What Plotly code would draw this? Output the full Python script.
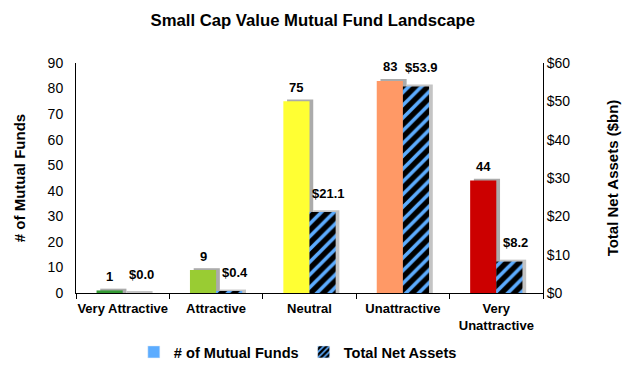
import plotly.graph_objects as go

categories = ["Very Attractive", "Attractive", "Neutral", "Unattractive", "Very<br>Unattractive"]
num_funds = [1, 9, 75, 83, 44]
net_assets = [0.0, 0.4, 21.1, 53.9, 8.2]
fund_labels = ["1", "9", "75", "83", "44"]
asset_labels = ["$0.0", "$0.4", "$21.1", "$53.9", "$8.2"]
bar_colors = ["#339933", "#99cc33", "#ffff33", "#ff9966", "#cc0000"]

FONT = "Liberation Sans, Arial, sans-serif"
W = 0.28
BLUE = "#5cacff"

fig = go.Figure()
# soft shadows
fig.add_trace(go.Bar(x=categories, y=[v + 0.7 for v in num_funds], width=W, offset=-W + 0.04,
                     marker=dict(color="#ababab", line=dict(width=0)),
                     showlegend=False, hoverinfo="skip", yaxis="y"))
fig.add_trace(go.Bar(x=categories, y=[v + 0.5 for v in net_assets], width=W, offset=0.04,
                     marker=dict(color="#c4c4c4", line=dict(width=0)),
                     showlegend=False, hoverinfo="skip", yaxis="y2"))
fig.add_trace(go.Bar(x=categories, y=num_funds, width=W, offset=-W,
                     marker=dict(color=bar_colors, line=dict(width=0)),
                     showlegend=False, yaxis="y"))
fig.add_trace(go.Bar(x=categories, y=net_assets, width=W, offset=0,
                     marker=dict(color="black", line=dict(width=0),
                                 pattern=dict(shape="/", fgcolor=BLUE, bgcolor="black", fgopacity=1,
                                              size=9, solidity=0.4)),
                     showlegend=False, yaxis="y2"))
# legend entries
fig.add_trace(go.Bar(x=[None], y=[None], name="<b># of Mutual Funds</b>",
                     marker=dict(color=BLUE)))
fig.add_trace(go.Bar(x=[None], y=[None], name="<b>Total Net Assets</b>",
                     marker=dict(color="black", pattern=dict(shape="/", fgcolor=BLUE, bgcolor="black",
                                                             fgopacity=1, size=5, solidity=0.4))))

annotations = []
for i, c in enumerate(categories):
    annotations.append(dict(x=c, y=num_funds[i], xref="x", yref="y", text="<b>%s</b>" % fund_labels[i],
                            showarrow=False, xshift=-W * 93.4 / 2, yshift=14, yanchor="middle",
                            font=dict(family=FONT, size=13, color="black")))
    annotations.append(dict(x=c, y=net_assets[i], xref="x", yref="y2", text="<b>%s</b>" % asset_labels[i],
                            showarrow=False, xshift=W * 93.4 / 2 + 6, yshift=19, yanchor="middle",
                            font=dict(family=FONT, size=13, color="black")))

fig.update_layout(
    width=622, height=359,
    margin=dict(l=68, r=87, t=55, b=74, autoexpand=False),
    paper_bgcolor="white", plot_bgcolor="white",
    barmode="overlay",
    annotations=annotations,
    font=dict(family=FONT, size=13, color="black"),
    title=dict(text="<b>Small Cap Value Mutual Fund Landscape</b>", x=0.490, xanchor="center",
               y=0.967, yanchor="middle", font=dict(family=FONT, size=16.7, color="black")),
    xaxis=dict(showline=True, linecolor="black", linewidth=1, ticks="outside", tickson="boundaries",
               ticklen=5, tickcolor="black", showgrid=False, automargin=False, tickangle=0,
               ticklabelstandoff=3,
               tickfont=dict(family=FONT, size=13, color="black", weight="bold")),
    yaxis=dict(range=[0, 90], dtick=10, showline=True, linecolor="black", linewidth=1,
               showgrid=False, zeroline=False, ticks="", tickfont=dict(size=14), automargin=False,
               ticklabelstandoff=9,
               title=dict(text="<b># of Mutual Funds</b>", font=dict(size=15), standoff=18)),
    yaxis2=dict(range=[0, 60], dtick=10, tickprefix="$", overlaying="y", side="right",
                showline=True, linecolor="black", linewidth=1, showgrid=False, zeroline=False,
                ticks="", tickfont=dict(size=14), automargin=False, ticklabelstandoff=0,
                title=dict(text="<b>Total Net Assets ($bn)</b>", font=dict(size=15), standoff=38)),
    legend=dict(orientation="h", x=0.475, xanchor="center", yref="container", y=0.042, yanchor="middle",
                font=dict(family=FONT, size=14.6, color="black"),
                traceorder="normal"),
)

fig.write_html("out.html")
